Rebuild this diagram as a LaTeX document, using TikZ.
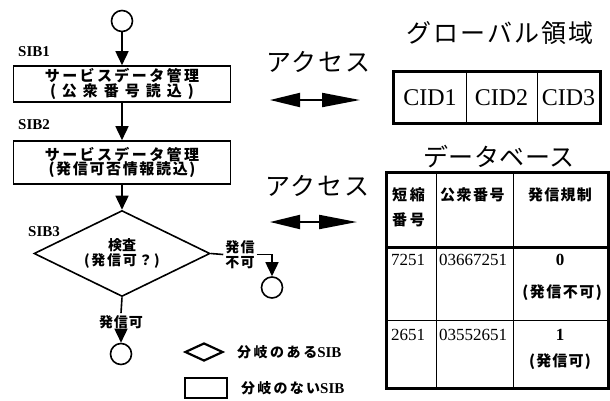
\documentclass[tikz,border=0pt]{standalone}
\usepackage{fontspec}
\setmainfont{Liberation Serif}
\newfontfamily\jp{Noto Sans CJK JP}
\usetikzlibrary{arrows.meta,shapes.geometric}
\newcommand\fsz[1]{\fontsize{#1pt}{#1pt}\selectfont}
\newcommand\lsp[2]{{\addfontfeatures{LetterSpace=#1}#2}}
\begin{document}
\begin{tikzpicture}[x=1pt,y=-1pt,
  fl/.style={line width=1.6pt},
  arr/.style={fl,-{Triangle[length=14pt,width=13pt]}},
  sbox/.style={draw,fl,rectangle,minimum width=217pt,inner sep=0pt,align=center,font=\jp\bfseries\fsz{15}},
  term/.style={draw,fl,circle,minimum size=21pt,inner sep=0pt},
  jtxt/.style={font=\jp\bfseries\fsz{14}},
  sib/.style={font=\bfseries\fsz{15},anchor=west,inner sep=0pt},
  acc/.style={line width=2pt,{Triangle[length=30pt,width=14pt]}-{Triangle[length=38pt,width=14pt]}},
  big/.style={font=\jp\fsz{25},inner sep=0pt},
  cid/.style={draw,line width=0.8pt,minimum height=51pt,inner sep=0pt,font=\fsz{24}},
  cell/.style={draw,line width=0.8pt,inner sep=0pt},
  th/.style={font=\jp\bfseries\fsz{15},inner sep=0pt},
  td/.style={font=\fsz{17},inner sep=0pt},
  lgt/.style={font=\jp\bfseries\fsz{14},anchor=west,inner sep=0pt}]
\useasboundingbox (0,0) rectangle (610,400);

% ---- flowchart ----
\node[term] (c0) at (122,21) {};
\node[sbox,minimum height=36pt] (b1) at (122,84)
  {\lsp{16}{サービスデータ管理}\\[0pt]\lsp{40}{(公衆番号読込)}};
\node[sbox,minimum height=43pt] (b2) at (122,162.5)
  {\lsp{16}{サービスデータ管理}\\[-1pt]\lsp{11}{(発信可否情報読込)}};
\node[draw,fl,diamond,aspect=2,minimum width=176pt,minimum height=86pt,inner sep=0pt,
      align=center,font=\jp\bfseries\fsz{14}] (d) at (122,253.5)
  {検査\\[1pt]\lsp{12}{(発信可？)}};

\node[sib] (s1) at (18,52) {SIB1};
\node[sib] (s2) at (18,125) {SIB2};
\node[sib] (s3) at (28,232) {SIB3};

\draw[arr] (c0) -- (b1);
\draw[arr] (b1) -- (b2);
\draw[arr] (b2) -- (d);

\node[jtxt,inner sep=2pt] (ok) at (121,322) {\lsp{6}{発信可}};
\node[term] (c1) at (121,354) {};
\draw[fl] (d.south) -- (ok.north);
\draw[arr] (ok) -- (c1);

\node[jtxt,align=center,inner sep=2pt] (ng) at (240,254.5) {\lsp{8}{発信}\\[1pt]\lsp{8}{不可}};
\node[term] (c2) at (272,287.5) {};
\draw[fl] (d.east) -- (ng.west);
\draw[arr] (ng.east) -| (c2);

% ---- legend ----
\node[draw,diamond,aspect=2,line width=2.2pt,minimum width=38pt,minimum height=18pt,inner sep=0pt] (lg1) at (204,352) {};
\node[lgt] (lt1) at (237,352) {\lsp{18}{分岐のある}{\rmfamily\bfseries\fsz{15}SIB}};
\node[draw,line width=1.4pt,minimum width=42pt,minimum height=20pt,inner sep=0pt] (lg2) at (206,388) {};
\node[lgt] (lt2) at (241,388) {\lsp{16}{分岐のない}{\rmfamily\bfseries\fsz{15}SIB}};

% ---- access arrows ----
\node[big] (acc1) at (318,62) {\lsp{7}{アクセス}};
\coordinate (a1l) at (270,100);
\coordinate (a1r) at (360,100);
\draw[acc] (a1l) -- (a1r);
\node[big] (acc2) at (317,186) {\lsp{7}{アクセス}};
\coordinate (a2l) at (270,222);
\coordinate (a2r) at (357,222);
\draw[acc] (a2l) -- (a2r);

% ---- global area ----
\node[big] (glob) at (500,33) {\lsp{8}{グローバル領域}};
\node[cid,minimum width=72pt] (cid1) at (430,97.5) {CID1};
\node[cid,minimum width=71pt] (cid2) at (501.5,97.5) {CID2};
\node[cid,minimum width=63pt] (cid3) at (568.5,97.5) {CID3};
\draw[line width=3pt] (cid1.north west) rectangle (cid3.south east);

% ---- database ----
\node[big] (dbt) at (499,157) {\lsp{2}{データベース}};
\node[cell,minimum width=49pt,minimum height=74pt] (h1) at (411.5,210) {};
\node[cell,minimum width=77pt,minimum height=74pt] (h2) at (474.5,210) {};
\node[cell,minimum width=95pt,minimum height=74pt] (h3) at (560.5,210) {};
\node[cell,minimum width=49pt,minimum height=73pt] (r11) at (411.5,283.5) {};
\node[cell,minimum width=77pt,minimum height=73pt] (r12) at (474.5,283.5) {};
\node[cell,minimum width=95pt,minimum height=73pt] (r13) at (560.5,283.5) {};
\node[cell,minimum width=49pt,minimum height=68pt] (r21) at (411.5,354) {};
\node[cell,minimum width=77pt,minimum height=68pt] (r22) at (474.5,354) {};
\node[cell,minimum width=95pt,minimum height=68pt] (r23) at (560.5,354) {};
\draw[line width=3pt] (h1.north west) rectangle (r23.south east);
\draw[line width=2.5pt] (h1.south west) -- (h3.south east);

\node[th,anchor=west] (t1) at (392,195) {\lsp{18}{短縮}};
\node[th,anchor=west] (t2) at (392,220) {\lsp{18}{番号}};
\node[th,anchor=west] (t3) at (440,195) {\lsp{10}{公衆番号}};
\node[th] (t4) at (560,195) {\lsp{8}{発信規制}};
\node[td,anchor=west] (t5) at (391,260) {7251};
\node[td,anchor=west] (t6) at (439,260) {03667251};
\node[td,font=\bfseries\fsz{17}] (t7) at (560,260) {0};
\node[th] (t8) at (562,293) {\lsp{10}{(発信不可)}};
\node[td,anchor=west] (t9) at (391,335) {2651};
\node[td,anchor=west] (t10) at (439,335) {03552651};
\node[td,font=\bfseries\fsz{17}] (t11) at (560,335) {1};
\node[th] (t12) at (560,362) {\lsp{8}{(発信可)}};
\end{tikzpicture}
\end{document}
